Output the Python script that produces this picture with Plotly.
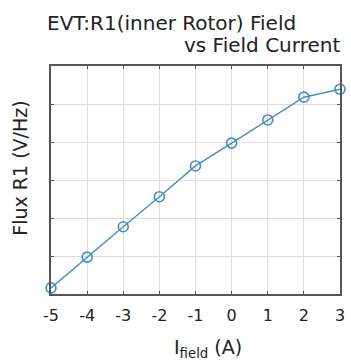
import plotly.graph_objects as go

# Data (y in grid units, no y tick labels shown)
field_current = [-5, -4, -3, -2, -1, 0, 1, 2, 3]
flux_r1 = [0.16, 0.97, 1.77, 2.56, 3.37, 3.97, 4.58, 5.18, 5.39]
x_ticks = [-5, -4, -3, -2, -1, 0, 1, 2, 3]
x_tick_labels = ["-5", "-4", "-3", "-2", "-1", "0", "1", "2", "3"]
title_line1 = "EVT:R1(inner Rotor) Field"
title_line2 = "vs Field Current"
x_title = "I<sub>field</sub> (A)"
y_title = "Flux R1 (V/Hz)"

FONT = "DejaVu Sans"
LINE_COLOR = "#4a8fc2"

fig = go.Figure()
fig.add_trace(go.Scatter(
    x=field_current, y=flux_r1, mode="lines+markers",
    line=dict(color=LINE_COLOR, width=1.5),
    marker=dict(symbol="circle-open", size=10, color=LINE_COLOR,
                line=dict(width=1.6, color=LINE_COLOR)),
    cliponaxis=False, showlegend=False,
))

axis_common = dict(
    showline=True, linecolor="#555555", linewidth=1.5, mirror="ticks",
    ticks="inside", ticklen=3, tickcolor="#555555",
    showgrid=True, gridcolor="#dedede", gridwidth=1, zeroline=False,
)
fig.update_xaxes(range=[-5, 3], tickvals=x_ticks, ticktext=x_tick_labels,
                 tickfont=dict(family=FONT, size=16, color="#222222"),
                 ticklabelstandoff=6, **axis_common)
fig.update_yaxes(range=[0, 6], dtick=1, showticklabels=False, **axis_common)

ann_font = dict(family=FONT, color="#222222")
fig.add_annotation(text=title_line1, xref="paper", yref="paper", x=-0.02, y=1.189,
                   xanchor="left", yanchor="middle", showarrow=False,
                   font=dict(size=20, **ann_font))
fig.add_annotation(text=title_line2, xref="paper", yref="paper", x=1.007, y=1.092,
                   xanchor="right", yanchor="middle", showarrow=False,
                   font=dict(size=20, **ann_font))
fig.add_annotation(text=x_title, xref="paper", yref="paper", x=0.544, y=-0.237,
                   xanchor="center", yanchor="middle", showarrow=False,
                   font=dict(size=19, **ann_font))
fig.add_annotation(text=y_title, xref="paper", yref="paper", x=-0.108, y=0.553,
                   xanchor="center", yanchor="middle", showarrow=False, textangle=-90,
                   font=dict(size=19, **ann_font))

fig.update_layout(
    width=351, height=362,
    margin=dict(l=51, r=6, t=66, b=68),
    paper_bgcolor="white", plot_bgcolor="white",
    font=dict(family=FONT),
)
fig.write_html(
    "out.html",
    config={"displayModeBar": False},
    post_script="document.body.style.margin='0';document.body.style.overflow='hidden';",
)
